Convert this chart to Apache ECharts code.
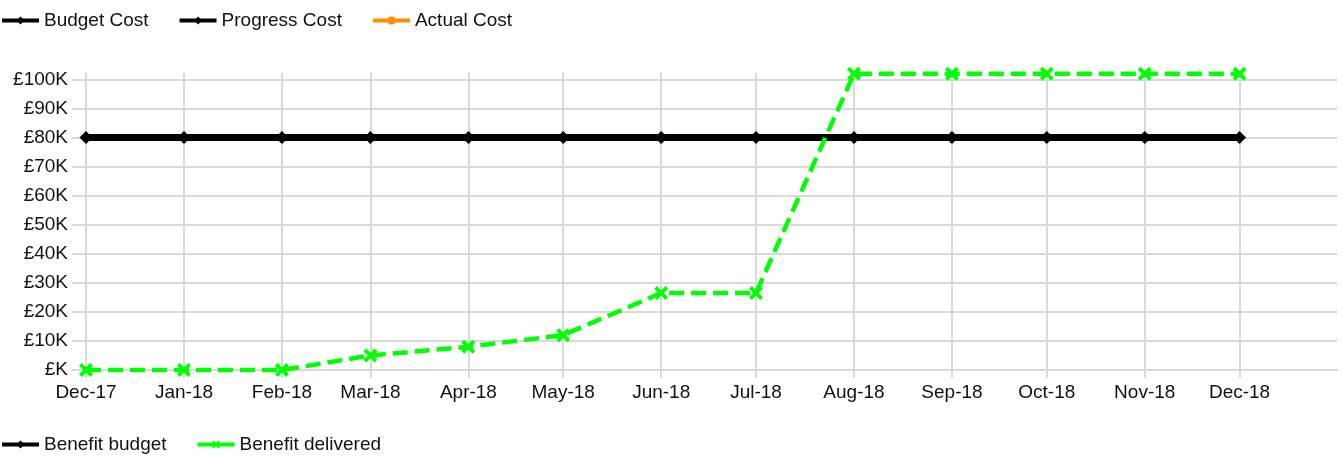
<!DOCTYPE html>
<html>
<head>
<meta charset="utf-8">
<title>Benefit chart</title>
<script src="https://cdn.jsdelivr.net/npm/echarts@6/dist/echarts.min.js"></script>
<style>
  html, body { margin: 0; padding: 0; background: #fff; }
  #chart { width: 1343px; height: 461px; }
</style>
</head>
<body>
<div id="chart"></div>
<script>
// month starts shown on the x axis
const months = ['2017-12-01', '2018-01-01', '2018-02-01', '2018-03-01', '2018-04-01', '2018-05-01',
  '2018-06-01', '2018-07-01', '2018-08-01', '2018-09-01', '2018-10-01', '2018-11-01', '2018-12-01']
const monthLabels = ['Dec-17', 'Jan-18', 'Feb-18', 'Mar-18', 'Apr-18', 'May-18',
  'Jun-18', 'Jul-18', 'Aug-18', 'Sep-18', 'Oct-18', 'Nov-18', 'Dec-18']
const yLabels = ['£K', '£10K', '£20K', '£30K', '£40K', '£50K', '£60K', '£70K', '£80K', '£90K', '£100K']

const benefitBudget = [80000, 80000, 80000, 80000, 80000, 80000, 80000, 80000, 80000, 80000, 80000, 80000, 80000]
const benefitDelivered = [0, 0, 0, 5000, 8000, 12000, 26500, 26500, 102000, 102000, 102000, 102000, 102000]

const topLegend = ['Budget Cost', 'Progress Cost', 'Actual Cost']
const bottomLegend = ['Benefit budget', 'Benefit delivered']

const FONT = 'Liberation Sans'
const GRID_COLOR = '#d9d9d9'
const X_SHAPE = 'path://M0,2 L2,0 L5,3 L8,0 L10,2 L7,5 L10,8 L8,10 L5,7 L2,10 L0,8 L3,5 Z'
const W = 1343

// vertical lines fade out at the far right so the axis end line is not drawn
const vLineColor = {
  type: 'linear', x: 0, y: 0, x2: W, y2: 0, global: true,
  colorStops: [
    { offset: 0, color: GRID_COLOR },
    { offset: 1320 / W, color: GRID_COLOR },
    { offset: 1321 / W, color: 'rgba(255,255,255,0)' },
    { offset: 1, color: 'rgba(255,255,255,0)' }
  ]
}

const chart = echarts.init(document.getElementById('chart'))

function toPoints(values) {
  return months.map((m, i) => [m, values[i]])
}

function monthLabel(val) {
  const d = new Date(val)
  const idx = months.findIndex(m => {
    const md = new Date(m)
    return md.getFullYear() === d.getFullYear() && md.getMonth() === d.getMonth()
  })
  return idx >= 0 ? monthLabels[idx] : ''
}

const xMin = new Date(2017, 11, 1).getTime()
const xMax = new Date(2018, 11, 31, 20).getTime()

const legendBase = {
  left: 0,
  padding: 0,
  itemWidth: 37,
  itemHeight: 10,
  itemGap: 29,
  lineStyle: { width: 4, type: 'solid' },
  textStyle: { fontFamily: FONT, fontSize: 19, color: '#111' }
}

chart.setOption({
  animation: false,
  textStyle: { fontFamily: FONT },
  legend: [
    Object.assign({ data: topLegend, top: 11 }, legendBase),
    Object.assign({ data: bottomLegend, top: 435 }, legendBase)
  ],
  grid: {
    left: 86,
    right: 6,
    top: 79.5,
    bottom: 91
  },
  xAxis: [
    {
      type: 'time',
      min: xMin,
      max: xMax,
      splitNumber: 13,
      axisLine: { show: true, lineStyle: { color: GRID_COLOR, width: 2 } },
      axisTick: { show: true, length: 8, lineStyle: { color: vLineColor, width: 2 } },
      splitLine: { show: true, lineStyle: { color: vLineColor, width: 2 } },
      axisLabel: {
        margin: 13,
        fontFamily: FONT,
        fontSize: 19,
        color: '#111',
        hideOverlap: false,
        showMaxLabel: false,
        formatter: monthLabel
      }
    },
    {
      type: 'time',
      position: 'top',
      min: xMin,
      max: xMax,
      splitNumber: 13,
      axisLine: { show: false },
      axisTick: { show: true, length: 7, lineStyle: { color: vLineColor, width: 2 } },
      splitLine: { show: false },
      axisLabel: { show: false }
    }
  ],
  yAxis: {
    type: 'value',
    min: 0,
    max: 100000,
    interval: 10000,
    axisLine: { show: true, lineStyle: { color: GRID_COLOR, width: 2 } },
    axisTick: { show: true, length: 14, lineStyle: { color: GRID_COLOR, width: 2 } },
    splitLine: { show: true, lineStyle: { color: GRID_COLOR, width: 2 } },
    axisLabel: {
      margin: 18,
      fontFamily: FONT,
      fontSize: 19,
      color: '#111',
      formatter: v => yLabels[Math.round(v / 10000)]
    }
  },
  series: [
    {
      name: 'Budget Cost',
      type: 'line',
      data: [],
      symbol: 'diamond',
      itemStyle: { color: '#000' },
      lineStyle: { color: '#000', width: 4 }
    },
    {
      name: 'Progress Cost',
      type: 'line',
      data: [],
      symbol: 'diamond',
      itemStyle: { color: '#000' },
      lineStyle: { color: '#000', width: 4 }
    },
    {
      name: 'Actual Cost',
      type: 'line',
      data: [],
      symbol: 'circle',
      itemStyle: { color: '#ff8c00' },
      lineStyle: { color: '#ff8c00', width: 4 }
    },
    {
      name: 'Benefit budget',
      type: 'line',
      data: toPoints(benefitBudget),
      clip: false,
      symbol: 'diamond',
      symbolSize: 13,
      showAllSymbol: true,
      itemStyle: { color: '#000' },
      lineStyle: { color: '#000', width: 7 },
      z: 3
    },
    {
      name: 'Benefit delivered',
      type: 'line',
      data: toPoints(benefitDelivered),
      clip: false,
      symbol: X_SHAPE,
      symbolSize: 14,
      showAllSymbol: true,
      itemStyle: { color: '#00ff00' },
      lineStyle: { color: '#00ff00', width: 4.5, type: [15, 7] },
      z: 4
    }
  ]
})
</script>
</body>
</html>
